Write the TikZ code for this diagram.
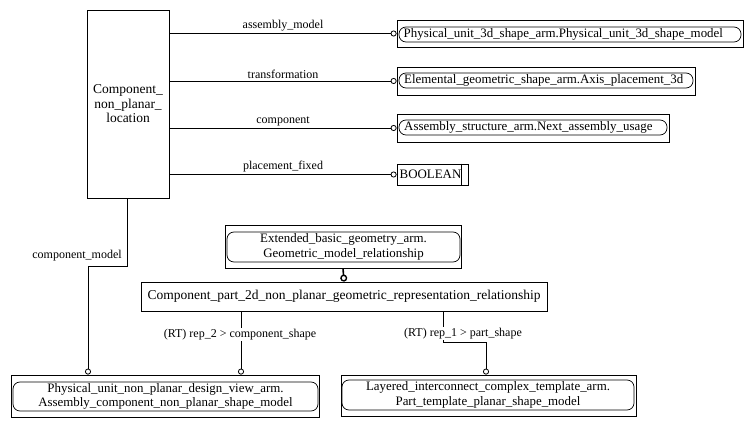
\documentclass[tikz,border=0pt]{standalone}
\usepackage{fontspec}
\setmainfont{Liberation Serif}
\usetikzlibrary{arrows.meta}
\begin{document}
\begin{tikzpicture}[x=1pt,y=-1pt,
  every node/.style={font=\fontsize{12pt}{14.5pt}\selectfont, inner sep=0pt},
  boxfont/.style={font=\fontsize{12.9pt}{14.6pt}\selectfont},
  frame/.style={draw, line width=0.8pt, rectangle},
  pill/.style={draw, line width=0.7pt, rounded corners=7pt, align=center, boxfont},
  pilltext/.style={anchor=west, boxfont},
  conn/.style={line width=0.8pt, -{Circle[open, length=6pt, width=6pt, line width=0.8pt]}},
  superconn/.style={line width=1.6pt, -{Circle[open, length=7pt, width=7pt, line width=1.4pt]}},
  lbl/.style={inner sep=0.6pt}]
\useasboundingbox (0,0) rectangle (752,427);

% central entity
\node[frame, minimum width=82pt, minimum height=188pt, align=center,
      font=\fontsize{13.5pt}{14.6pt}\selectfont] (main) at (128,104)
  {Component\_\\non\_planar\_\\location};

% referenced entities on the right
\node[frame, minimum width=346pt, minimum height=27pt] (pu3d) at (570,33.5) {};
\node[pill, minimum width=342pt, minimum height=15pt] (pu3dp) at (570,34.5) {};
\node[pilltext] (pu3dt) at (403.5,34.5)
  {Physical\_unit\_3d\_shape\_arm.Physical\_unit\_3d\_shape\_model};

\node[frame, minimum width=298pt, minimum height=28pt] (axis) at (546,81) {};
\node[pill, minimum width=294pt, minimum height=15pt] (axisp) at (546,80.5) {};
\node[pilltext] (axist) at (404,80.5)
  {Elemental\_geometric\_shape\_arm.Axis\_placement\_3d};

\node[frame, minimum width=272pt, minimum height=28pt] (nau) at (533,128) {};
\node[pill, minimum width=268pt, minimum height=15pt] (naup) at (533,127.5) {};
\node[pilltext] (naut) at (404,127.5)
  {Assembly\_structure\_arm.Next\_assembly\_usage};

\node[frame, minimum width=71pt, minimum height=21pt] (bool) at (432.5,174.5) {};
\node[pilltext] (boolt) at (399.5,174.5) {BOOLEAN};
\draw[line width=0.8pt] ([xshift=-7pt]bool.north east) -- ([xshift=-7pt]bool.south east);

% attribute connectors
\draw[conn] (main.east |- pu3d.west) -- node[lbl, above=1pt] {assembly\_model} (pu3d.west);
\draw[conn] (main.east |- axis.west) -- node[lbl, above=1pt] {transformation} (axis.west);
\draw[conn] (main.east |- nau.west) -- node[lbl, above=1pt] {component} (nau.west);
\draw[conn] (main.east |- bool.west) -- node[lbl, above=1pt] {placement\_fixed} (bool.west);

% relationship subtype and supertype
\node[frame, minimum width=236pt, minimum height=43pt] (gmr) at (343,246.5) {};
\node[pill, minimum width=233pt, minimum height=30pt] (gmrt) at (343.5,247)
  {Extended\_basic\_geometry\_arm.\\Geometric\_model\_relationship};

\node[frame, minimum width=406pt, minimum height=29pt] (cp2d) at (344,296.5) {};
\node[anchor=west, font=\fontsize{13.5pt}{14.6pt}\selectfont] (cp2dt) at (147.5,296.5)
  {Component\_part\_2d\_non\_planar\_geometric\_representation\_relationship};

\draw[superconn] (gmr.south) -- (cp2d.north);

% shape model targets
\node[frame, minimum width=308pt, minimum height=42pt] (pnp) at (165,396) {};
\node[pill, minimum width=305pt, minimum height=29pt] (pnpt) at (165.5,396.5)
  {Physical\_unit\_non\_planar\_design\_view\_arm.\\Assembly\_component\_non\_planar\_shape\_model};

\node[frame, minimum width=295pt, minimum height=41pt] (ptp) at (488.5,395.5) {};
\node[pill, minimum width=292pt, minimum height=30pt] (ptpt) at (488,395)
  {Layered\_interconnect\_complex\_template\_arm.\\Part\_template\_planar\_shape\_model};

% component_model
\coordinate (cm1) at (127,266);
\draw[conn] (main.south -| cm1) -- (cm1) -- (cm1 -| 88,0) -- (pnp.north -| 88,0);
\node[lbl] (cmlbl) at (77,256) {component\_model};

% rep_2 > component_shape
\draw[conn] (cp2d.south -| 241,0) -- (pnp.north -| 241,0);
\node[lbl, fill=white] (rep2) at (240,334.5) {(RT) rep\_2 > component\_shape};

% rep_1 > part_shape
\coordinate (r1a) at (443,342);
\coordinate (r1b) at (486,342);
\draw[conn] (cp2d.south -| r1a) -- (r1a) -- (r1b) -- (ptp.north -| r1b);
\node[lbl, fill=white] (rep1) at (463,333.5) {(RT) rep\_1 > part\_shape};
\end{tikzpicture}
\end{document}
